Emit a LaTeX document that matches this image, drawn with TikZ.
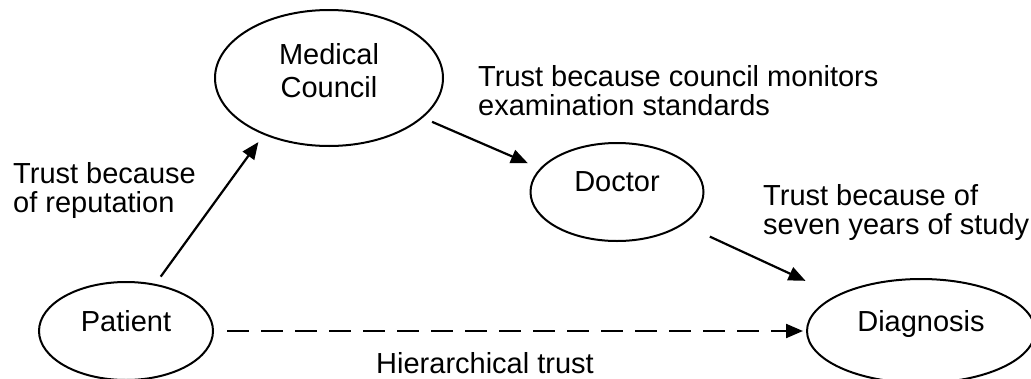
\documentclass[tikz,border=0pt]{standalone}
\usepackage{fontspec}
\setmainfont{Liberation Sans}
\usetikzlibrary{shapes.geometric,arrows.meta}
\begin{document}
\begin{tikzpicture}[x=1pt,y=-1pt,
  every node/.style={font=\fontsize{29}{29.5}\selectfont},
  oval/.style={draw, ellipse, line width=2pt, inner sep=0pt, align=center, text depth=20pt},
  lbl/.style={inner sep=0pt, align=left, anchor=north west},
  link/.style={line width=2.2pt, -{Triangle[length=17pt,width=14pt]}},
  hier/.style={link, dash pattern=on 22pt off 12pt},
]
\useasboundingbox (0,0) rectangle (1031,378);
\clip (0,0) rectangle (1031,378);

% the four parties
\node[oval, minimum width=228pt, minimum height=136pt, text depth=15pt,
      font=\fontsize{29}{33}\selectfont] (mc) at (329,78) {Medical\\Council};
\node[oval, minimum width=173pt, minimum height=98pt] (doc) at (617,192) {Doctor};
\node[oval, minimum width=174pt, minimum height=98pt] (pat) at (126,331) {Patient};
\node[oval, minimum width=228pt, minimum height=104pt] (dia) at (921,331) {Diagnosis};

% trust relations
\draw[link, shorten <=9pt, shorten >=9pt] (pat.58) -- (mc.221);
\draw[link, shorten <=10pt, shorten >=13pt] (mc.-23) -- (doc.163);
\draw[link, shorten <=29pt, shorten >=34pt] (doc.-26) -- (dia.157);
\draw[hier, shorten <=13pt, shorten >=3pt] (pat.east) -- (dia.west);

% relation labels
\node[lbl] (l1) at (13,162) {Trust because\\of reputation};
\node[lbl] (l2) at (478,65) {Trust because council monitors\\examination standards};
\node[lbl] (l3) at (763,184) {Trust because of\\seven years of study};
\node[inner sep=0pt, anchor=north] (l4) at (485,352) {Hierarchical trust};
\end{tikzpicture}
\end{document}
